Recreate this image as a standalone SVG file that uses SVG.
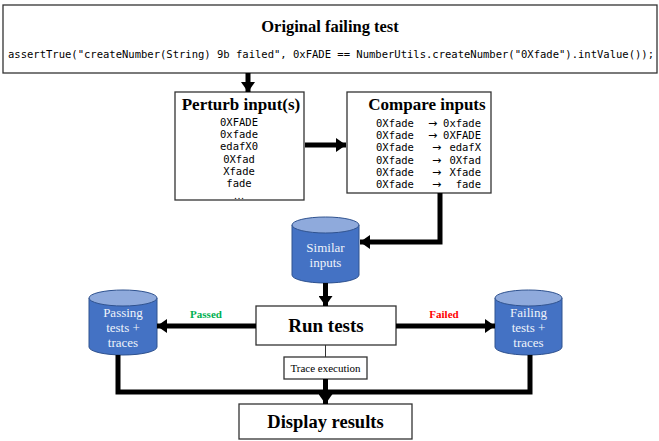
<svg xmlns="http://www.w3.org/2000/svg" width="659" height="441" viewBox="0 0 659 441">
<defs>
<style>
.box{fill:#fff;stroke:#333;stroke-width:1.3}
.ttl{font-family:"Liberation Serif",serif;font-weight:bold;fill:#000;text-anchor:middle}
.mono{font-family:"DejaVu Sans Mono","Liberation Mono",monospace;font-size:10.5px;fill:#000}
.arr{font-family:"DejaVu Sans",sans-serif;font-size:11px;fill:#000}
.cbody{fill:#4472C4;stroke:#2F528F;stroke-width:1}
.ctop{fill:#8FAADC;stroke:#2F528F;stroke-width:1}
.ctxt{font-family:"Liberation Serif",serif;font-size:13px;fill:#EEF2FA;text-anchor:middle}
.thick{fill:none;stroke:#000;stroke-width:5}
.lbl{font-family:"Liberation Serif",serif;font-size:11px;font-weight:bold;text-anchor:middle}
</style>
<marker id="ah" markerUnits="userSpaceOnUse" markerWidth="12" markerHeight="14" refX="10" refY="7" orient="auto">
<path d="M0,0 L10,7 L0,14 Z" fill="#000"/>
</marker>
</defs>

<g id="original">
<rect class="box" x="3" y="5" width="654" height="68"/>
<text class="ttl" x="330" y="32" font-size="16.5">Original failing test</text>
<text class="mono" x="8" y="58" textLength="646" lengthAdjust="spacingAndGlyphs">assertTrue("createNumber(String) 9b failed", 0xFADE == NumberUtils.createNumber("0Xfade").intValue());</text>
</g>

<g id="perturb">
<rect class="box" x="175" y="92" width="129" height="108"/>
<text class="ttl" x="241" y="110" font-size="17">Perturb input(s)</text>
<g class="mono" text-anchor="middle">
<text x="239" y="126">0XFADE</text>
<text x="239" y="138">0xfade</text>
<text x="239" y="150">edafX0</text>
<text x="239" y="163">0Xfad</text>
<text x="239" y="175">Xfade</text>
<text x="239" y="187">fade</text>
<text x="239" y="199" fill="#000" font-family="Liberation Serif, serif">…</text>
</g>
</g>

<g id="compare">
<rect class="box" x="347" y="92" width="144" height="101"/>
<text class="ttl" x="427" y="110" font-size="17">Compare inputs</text>
<g class="mono">
<text x="376" y="127">0Xfade</text><text x="481" y="127" text-anchor="end">0xfade</text>
<text x="376" y="139">0Xfade</text><text x="481" y="139" text-anchor="end">0XFADE</text>
<text x="376" y="151">0Xfade</text><text x="481" y="151" text-anchor="end">edafX</text>
<text x="376" y="164">0Xfade</text><text x="481" y="164" text-anchor="end">0Xfad</text>
<text x="376" y="176">0Xfade</text><text x="481" y="176" text-anchor="end">Xfade</text>
<text x="376" y="188">0Xfade</text><text x="481" y="188" text-anchor="end">fade</text>
</g>
<g class="arr">
<text x="428" y="127">→</text>
<text x="428" y="139">→</text>
<text x="432" y="151">→</text>
<text x="432" y="164">→</text>
<text x="432" y="176">→</text>
<text x="432" y="188">→</text>
</g>
</g>

<g id="similar">
<path class="cbody" d="M292,225 V275 A33.5,8 0 0 0 359,275 V225"/>
<ellipse class="ctop" cx="325.5" cy="225" rx="33.5" ry="8"/>
<text class="ctxt" x="325.5" y="252">Similar</text>
<text class="ctxt" x="325.5" y="267">inputs</text>
</g>

<g id="runtests">
<rect class="box" x="256" y="306" width="140" height="39"/>
<text class="ttl" x="326" y="332" font-size="19">Run tests</text>
</g>

<g id="passing">
<path class="cbody" d="M89,298 V347 A34,8 0 0 0 157,347 V298"/>
<ellipse class="ctop" cx="123" cy="298" rx="34" ry="8"/>
<text class="ctxt" x="123" y="317">Passing</text>
<text class="ctxt" x="123" y="332">tests +</text>
<text class="ctxt" x="123" y="347">traces</text>
</g>

<g id="failing">
<path class="cbody" d="M495,298 V347 A33.5,8 0 0 0 562,347 V298"/>
<ellipse class="ctop" cx="528.5" cy="298" rx="33.5" ry="8"/>
<text class="ctxt" x="528.5" y="317">Failing</text>
<text class="ctxt" x="528.5" y="332">tests +</text>
<text class="ctxt" x="528.5" y="347">traces</text>
</g>

<g id="trace">
<rect class="box" x="284" y="357" width="83" height="22" stroke-width="1"/>
<text x="325.5" y="372" font-family="Liberation Serif, serif" font-size="11" text-anchor="middle">Trace execution</text>
</g>

<g id="display">
<rect class="box" x="239" y="404" width="173" height="35"/>
<text class="ttl" x="325.5" y="428" font-size="18.5">Display results</text>
</g>

<g id="connectors">
<line class="thick" x1="248" y1="73" x2="248" y2="92" marker-end="url(#ah)"/>
<line class="thick" x1="305" y1="145" x2="346" y2="145" marker-end="url(#ah)"/>
<path class="thick" d="M440,193 V242 H360" marker-end="url(#ah)"/>
<line class="thick" x1="325.5" y1="283" x2="325.5" y2="306" marker-end="url(#ah)"/>
<line class="thick" x1="256" y1="326" x2="157" y2="326" marker-end="url(#ah)"/>
<line class="thick" x1="396" y1="326" x2="495" y2="326" marker-end="url(#ah)"/>
<line x1="325.5" y1="345" x2="325.5" y2="357" stroke="#333" stroke-width="1"/>
<path class="thick" d="M118,355 V392 H530 V355"/>
<line class="thick" x1="325.5" y1="379" x2="325.5" y2="404" marker-end="url(#ah)"/>
<text class="lbl" x="206" y="318" fill="#00B050">Passed</text>
<text class="lbl" x="444" y="318" fill="#FF0000">Failed</text>
</g>
</svg>
